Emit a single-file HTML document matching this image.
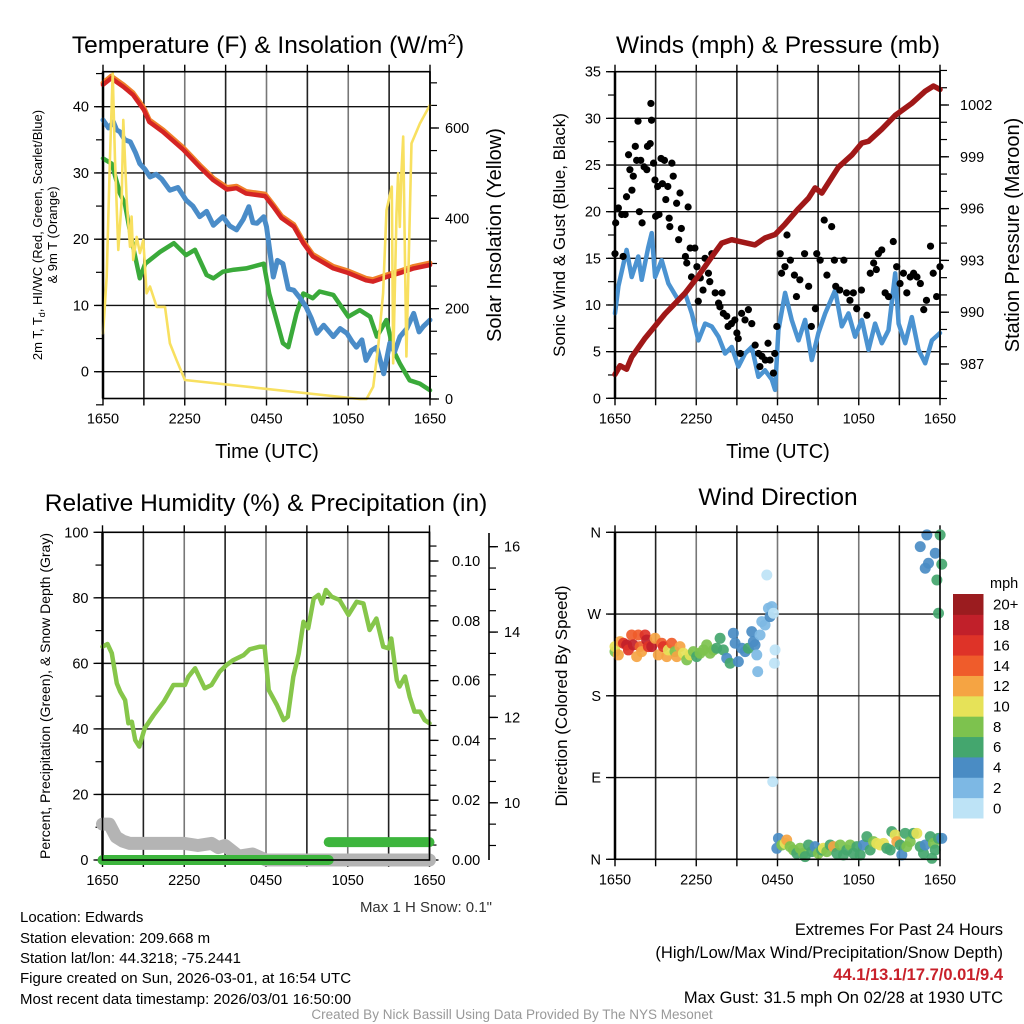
<!DOCTYPE html>
<html><head><meta charset="utf-8">
<style>
body{margin:0;background:#fff;}
svg{display:block;font-family:"Liberation Sans",Arial,sans-serif;}
</style></head>
<body>
<svg id="fig" width="1024" height="1024" viewBox="0 0 1024 1024" xmlns="http://www.w3.org/2000/svg">
<rect width="1024" height="1024" fill="#fff"/>
<g id="layer"></g>
<!-- titles -->
<text x="268" y="53" font-size="24.5" text-anchor="middle">Temperature (F) &amp; Insolation (W/m<tspan dy="-9" font-size="15">2</tspan><tspan dy="9">)</tspan></text>
<text x="778" y="53" font-size="24.5" text-anchor="middle">Winds (mph) &amp; Pressure (mb)</text>
<text x="266" y="511" font-size="24.5" text-anchor="middle">Relative Humidity (%) &amp; Precipitation (in)</text>
<text x="778" y="505" font-size="24.5" text-anchor="middle">Wind Direction</text>
<!-- axis titles -->
<text x="267" y="458" font-size="20" text-anchor="middle">Time (UTC)</text>
<text x="778" y="458" font-size="20" text-anchor="middle">Time (UTC)</text>
<text transform="translate(42,235) rotate(-90)" font-size="13" text-anchor="middle">2m T, T<tspan dy="3" font-size="9">d</tspan><tspan dy="-3">, HI/WC (Red, Green, Scarlet/Blue)</tspan></text>
<text transform="translate(57,235) rotate(-90)" font-size="13" text-anchor="middle">&amp; 9m T (Orange)</text>
<text transform="translate(501,235) rotate(-90)" font-size="20" text-anchor="middle">Solar Insolation (Yellow)</text>
<text transform="translate(565,235) rotate(-90)" font-size="17" text-anchor="middle">Sonic Wind &amp; Gust (Blue, Black)</text>
<text transform="translate(1019,235) rotate(-90)" font-size="20" text-anchor="middle">Station Pressure (Maroon)</text>
<text transform="translate(50,696) rotate(-90)" font-size="14" text-anchor="middle">Percent, Precipitation (Green), &amp; Snow Depth (Gray)</text>
<text transform="translate(567,696) rotate(-90)" font-size="17" text-anchor="middle">Direction (Colored By Speed)</text>
<!-- footer text -->
<text x="492" y="912" font-size="15" fill="#333" text-anchor="end">Max 1 H Snow: 0.1"</text>
<g font-size="15">
<text x="20" y="922">Location: Edwards</text>
<text x="20" y="943">Station elevation: 209.668 m</text>
<text x="20" y="963">Station lat/lon: 44.3218; -75.2441</text>
<text x="20" y="983">Figure created on Sun, 2026-03-01, at 16:54 UTC</text>
<text x="20" y="1004">Most recent data timestamp: 2026/03/01 16:50:00</text>
</g>
<g font-size="16.5" text-anchor="end">
<text x="1003" y="935">Extremes For Past 24 Hours</text>
<text x="1003" y="958">(High/Low/Max Wind/Precipitation/Snow Depth)</text>
<text x="1003" y="980" fill="#c8202a" font-weight="bold">44.1/13.1/17.7/0.01/9.4</text>
<text x="1003" y="1003">Max Gust: 31.5 mph On 02/28 at 1930 UTC</text>
</g>
<text x="512" y="1019" font-size="13.5" fill="#999" text-anchor="middle">Created By Nick Bassill Using Data Provided By The NYS Mesonet</text>
</svg>
<script>
// ---------- DATA ----------
const xTickLabels = ["1650","2250","0450","1050","1650"];
const redHours = [0,0.6,1.5,2.2,3,3.4,4.4,5.9,7.1,8.1,9.1,9.8,10.5,11.9,12.5,13.1,14,14.7,15.4,16.9,18,19.3,19.8,20.8,21.8,22.8,24];
const redTemp  = [43.3,44.3,43.0,41.8,39.5,37.7,36.2,33.5,30.9,28.9,27.5,27.7,26.9,26.5,24.9,23.2,21.9,19.4,17.4,15.6,14.9,13.8,13.6,14.3,14.9,15.6,16.1];
const blueHours = [0,0.4,0.76,1.0,1.25,1.6,2.0,2.4,2.7,3.1,3.45,3.9,4.3,4.9,5.5,6.1,6.6,7.1,7.6,8.1,8.8,9.3,9.8,10.3,10.7,11.0,11.3,11.8,12.0,12.5,12.8,13.2,13.6,14.0,14.5,14.9,15.3,15.7,16.2,16.9,17.4,17.9,18.3,18.6,19.0,19.3,19.7,20.1,20.6,21.05,21.4,21.8,22.3,22.8,23.2,23.5,24];
const blueTemp  = [38.0,36.8,37.7,36.5,36.2,35.0,34.7,33.0,31.4,30.5,29.4,29.8,29.1,27.4,27.8,25.9,25.0,23.4,24.2,22.1,23.4,22.0,21.4,23.0,24.9,22.5,22.4,23.4,21.9,14.3,16.8,16.3,12.5,12.3,11.0,9.8,8.0,5.8,7.0,5.3,6.5,5.8,4.5,3.7,4.8,1.7,3.2,3.7,-0.3,4.3,3.0,5.3,6.5,8.8,6.0,6.8,7.8];
const greenHours = [0,0.64,1.25,1.6,2.1,2.7,3.1,4.2,5.2,6.1,6.75,7.6,8.1,8.8,9.6,10.5,11.8,12.2,13.2,13.6,14.2,14.7,15.4,15.9,16.9,18.0,18.85,19.6,20.1,20.8,21.3,21.8,22.5,23.25,24];
const greenTemp  = [32.2,31.4,26.9,25.4,19.9,14.1,16.3,18.1,19.4,17.6,18.4,14.6,14.1,15.1,15.4,15.6,16.3,11.8,4.3,3.7,8.8,11.8,11.1,12.1,11.6,8.3,9.3,8.3,5.3,7.8,3.3,1.2,-1.3,-1.8,-2.8];
const solarHours = [0,0.27,0.51,0.71,0.88,1.12,1.37,1.49,1.74,1.98,2.1,2.22,2.47,2.71,2.96,3.2,3.45,3.94,4.55,4.91,5.4,6.01,18.85,19.34,19.83,20.2,20.56,20.81,21.2,21.3,21.54,21.66,21.78,21.9,22.03,22.27,22.64,23.26,24];
const solarW     = [145,271,529,721,529,330,440,618,440,337,404,308,359,323,352,234,249,204,204,123,86,42,0,0,27,116,234,418,470,79,411,500,381,500,581,94,566,610,651];
const windHours = [0,0.25,0.86,1.23,1.72,1.97,2.46,2.71,2.96,3.45,3.94,4.68,5.17,5.67,6.16,6.65,7.14,7.64,8.13,8.62,9.11,9.61,10.1,10.59,11.08,11.58,11.82,12.07,12.56,13.05,13.55,14.04,14.53,15.02,15.52,16.26,16.75,17.24,17.73,18.23,18.72,19.21,19.7,20.2,20.69,20.94,21.43,21.92,22.41,22.91,23.4,24];
const windMph   = [9.1,12.0,15.9,13.0,15.2,12.7,16.2,17.7,13.0,14.8,12.3,10.5,11.3,9.1,6.2,8.0,7.7,6.6,4.8,5.5,3.4,4.8,5.5,2.3,3.0,2.0,0.9,7.3,11.3,8.4,6.2,8.4,4.1,7.0,9.1,11.6,7.7,9.1,6.6,8.4,5.2,8.0,5.9,7.3,13.4,8.0,5.9,8.7,5.2,3.75,6.2,7.0];
const gustHours = [0.0,0.05,0.25,0.5,0.6,0.75,0.85,1.0,1.1,1.25,1.35,1.5,1.6,1.7,1.8,1.9,2.0,2.15,2.35,2.4,2.6,2.65,2.7,2.85,2.95,3.0,3.15,3.25,3.4,3.5,3.65,3.75,3.9,4.0,4.05,4.2,4.3,4.55,4.7,4.8,4.9,5.2,5.3,5.4,5.55,5.65,5.9,6.05,6.15,6.3,6.5,6.65,6.9,7.0,7.15,7.4,7.65,7.75,7.9,8.0,8.25,8.35,8.6,8.85,9.0,9.1,9.25,9.35,9.6,9.85,10.1,10.35,10.6,10.7,10.85,11.1,11.3,11.45,11.7,11.8,11.95,12.2,12.3,12.55,12.7,12.95,13.25,13.4,13.65,14.0,14.3,14.5,14.8,14.9,15.15,15.45,15.65,16.0,16.2,16.3,16.6,16.9,17.1,17.35,17.6,17.85,18.2,18.6,18.85,19.1,19.3,19.45,19.7,19.95,20.2,20.55,20.8,21.05,21.3,21.55,21.8,22.05,22.3,22.55,22.8,23.0,23.3,23.5,23.75,24.0];
const gustMph   = [15.5,18.8,20.4,19.7,15.2,19.7,21.6,26.1,24.5,22.3,23.8,27.0,25.5,29.7,20.0,25.5,18.8,24.8,24.5,27.0,27.3,31.6,29.8,25.2,23.4,19.5,22.7,19.7,25.7,23.0,25.5,21.3,22.7,19.3,18.4,25.2,23.8,20.9,17.0,22.0,18.2,15.2,14.5,20.5,16.1,13.0,16.1,14.1,10.4,12.9,11.6,15.0,13.4,12.5,15.5,11.3,10.2,9.8,11.3,9.1,8.8,7.7,8.0,8.4,7.0,6.4,4.8,9.1,8.4,9.5,8.0,5.7,4.8,3.4,4.5,4.1,5.9,4.1,2.7,4.8,7.7,15.5,13.4,14.1,17.5,14.8,13.2,10.9,12.7,15.5,12.0,7.7,9.6,15.5,14.8,19.1,13.2,18.4,14.8,12.0,11.6,14.8,11.3,10.5,11.3,9.6,11.6,8.9,13.4,14.5,13.8,15.5,15.9,11.3,10.9,16.8,14.1,12.3,13.4,11.3,13.0,13.4,13.0,12.3,9.5,10.5,16.3,13.4,10.9,14.1];
const presHours = [0,0.37,0.86,1.23,2.22,2.96,3.69,5.17,6.16,7.14,7.88,8.62,10.34,11.08,11.82,12.56,13.55,14.29,14.78,15.27,16.5,17.49,18.23,18.72,19.7,20.69,21.92,22.91,23.52,24];
const presMb   = [986.4,986.9,986.7,987.4,988.5,989.2,989.9,991.1,992.1,993.2,994.0,994.2,993.9,994.3,994.5,995.1,996.0,996.6,997.2,996.9,998.4,999.1,999.8,999.9,1000.6,1001.4,1002.1,1002.8,1003.1,1002.9];
const rhHours = [0,0.37,0.68,1.05,1.3,1.66,1.9,2.15,2.4,2.7,3.1,3.75,4.5,5.2,6.05,6.3,6.8,7.5,8.0,8.6,9.1,9.6,10.35,10.8,11.55,11.9,12.2,12.8,13.3,13.6,14.0,14.4,14.75,15.1,15.5,15.85,16.1,16.4,16.8,17.4,18.05,18.65,19.15,19.6,20.1,20.6,21.0,21.2,21.6,21.8,22.2,22.55,22.9,23.3,23.65,24];
const rhPct   = [65.1,65.9,63.1,53.9,51.4,48.8,41.7,42.2,36.6,34.6,40.2,44.2,48.3,53.4,53.4,55.9,58.5,52.4,53.4,57.5,59.5,61.0,62.5,64.3,65.1,65.1,51.9,47.3,42.7,43.7,55.9,62.9,72.7,70.7,79.8,80.9,78.3,82.4,80.4,79.3,74.8,78.8,78.3,70.2,73.7,65.1,64.6,67.6,54.9,52.9,56.0,49.8,45.3,45.3,42.7,41.7];
const precipHours = [0,16.6,16.6,24];
const precipIn    = [0,0,0.006,0.006];
const snowHours = [0,0.5,1,1.5,2,4,6,7,8,8.5,9,10,11,12,24];
const snowIn    = [9.5,9.5,9.2,9.1,9.05,9.05,9.05,9.0,9.05,8.95,9.0,8.75,8.8,8.66,8.66];
const dirHours = [0,0,0.25,0.37,0.62,0.86,0.99,1.23,1.35,1.6,1.72,1.85,1.97,2.22,2.34,2.46,2.71,2.96,3.2,3.45,3.57,3.82,3.94,4.19,4.43,4.56,4.8,5.05,5.3,5.54,5.79,6.03,6.28,6.53,6.77,7.02,7.27,7.51,7.76,8.0,8.25,8.5,8.74,8.87,9.11,9.36,9.61,9.85,10.1,10.22,10.34,10.47,10.54,10.71,10.84,11.08,11.21,11.33,11.45,11.58,11.7,11.82,11.77,11.65,
 11.95,12.07,12.32,12.56,12.68,12.93,13.18,13.42,13.67,13.92,14.04,14.29,14.53,14.78,15.02,15.27,15.39,15.64,15.89,16.13,16.38,16.63,16.87,17.12,17.36,17.61,17.86,18.1,18.35,18.6,18.84,19.09,19.33,19.58,19.83,20.07,20.32,20.44,20.69,20.81,21.06,21.18,21.43,21.55,21.8,22.04,22.29,22.54,22.78,22.91,23.28,23.52,23.65,23.89,24.13,23.4,
 23.03,24.01,22.54,23.65,23.15,24.13,22.91,23.77,23.89];
const dirDeg = [228.6,234.1,225,239.6,237.8,236,230.5,247,236,223.1,247,234.1,228.6,247,241.5,234.1,234.1,243.3,225,237.8,234.1,223.1,230.5,237.8,228.6,223.1,234.1,226.8,219.5,225,228.6,223.1,226.8,230.5,236,226.8,230.5,232.3,243.3,230.5,221.3,215.8,248.8,237.8,217.6,232.3,228.6,232.3,250.7,239.6,236,225,206.6,247,261.7,258,313,276.4,267.2,278.2,270.9,230.5,215.8,85.5,
 12.1,23.1,15.8,17.6,21.3,14,10.3,6.6,12.1,6.6,2.9,15.8,8.4,14,6.6,10.3,12.1,8.4,15.8,14,6.6,15.8,4.8,10.3,15.8,6.6,14,4.8,15.8,24.9,10.3,19.5,17.6,15.8,17.6,12.1,10.3,30.5,26.8,19.5,15.8,4.8,28.6,14,19.5,28.6,28.6,14,6.6,15.8,24.9,17.6,10.3,23.1,23.1,1.1,
 357.1,357.1,344.2,336.9,325.9,324.8,320.4,307.5,270.9];
const dirSpeed = [8,10,12,12,16,18,16,14,18,12,14,14,12,16,18,16,18,12,12,14,16,12,10,14,8,12,12,10,8,10,8,6,8,8,8,8,8,6,6,6,4,6,4,4,4,4,4,6,4,4,4,2,2,2,2,2,0,2,4,2,0,0,0,0,
 4,4,8,10,12,8,8,6,8,8,6,6,6,4,8,6,10,8,6,12,6,8,6,6,8,6,6,6,4,6,6,8,10,10,10,6,6,6,10,12,6,4,6,8,8,6,10,6,6,4,6,8,6,6,4,6,
 4,6,4,4,4,6,4,6,6];
const cbLabels = ["0","2","4","6","8","10","12","14","16","18","20+"];
const cbColors = ["#bde3f6","#7db8e4","#4a8cc4","#44a66e","#7dc24e","#e6e258","#f5a443","#ef5c2b","#de3328","#c1202a","#9b1c1f"];
const tempTicks=[0,10,20,30,40], solarTicks=[0,200,400,600], windTicks=[0,5,10,15,20,25,30,35], presTicks=[987,990,993,996,999,1002];
const rhTicks=[0,20,40,60,80,100], precipTicks=[0,0.02,0.04,0.06,0.08,0.10], snowTicks=[10,12,14,16];
const dirTicks=[0,90,180,270,360], dirLabels=["N","E","S","W","N"];

// ---------- RENDER ----------
const NS="http://www.w3.org/2000/svg";
const layer=document.getElementById('layer');
function el(tag,attrs,parent){const e=document.createElementNS(NS,tag);for(const k in attrs)e.setAttribute(k,attrs[k]);(parent||layer).appendChild(e);return e;}
function lin(d0,d1,r0,r1){return v=>r0+(v-d0)*(r1-r0)/(d1-d0);}
const P1={x0:103,x1:430,y0:71.7,y1:398.5}, P2={x0:615,x1:940,y0:71.7,y1:398.3}, P3={x0:102.5,x1:429.5,y0:532.3,y1:860}, P4={x0:615,x1:940,y0:532.3,y1:859.3};
function grid(P,hy,name){
  const g=el('g',{});
  
  
  const xs=lin(0,24,P.x0,P.x1);
  for(let h=3;h<24;h+=3){el('line',{x1:xs(h),x2:xs(h),y1:P.y0,y2:P.y1,stroke:h%6==0?'#777':'#222','stroke-width':1.6},g);}
  hy.forEach(y=>{el('line',{x1:P.x0,x2:P.x1,y1:y,y2:y,stroke:'#111','stroke-width':1.4},g);});
  for(let h=0;h<=24;h+=3){el('line',{x1:xs(h),x2:xs(h),y1:P.y1,y2:P.y1+7,stroke:'#000','stroke-width':1.4},g);el('line',{x1:xs(h),x2:xs(h),y1:P.y0,y2:P.y0-7,stroke:'#000','stroke-width':1.4},g);}
  xTickLabels.forEach((t,i)=>{const tx=el('text',{x:xs(i*6),y:P.y1+25,'font-size':14.5,'text-anchor':'middle'},g);tx.textContent=t;});
  return xs;
}
function frame(P,name){const r=el('rect',{x:P.x0,y:P.y0,width:P.x1-P.x0,height:P.y1-P.y0,fill:'none',stroke:'#000','stroke-width':1.6});
  
  }
function leftAxis(P,ys,majors,minorStep,min,max,labels,name){
  const g=el('g',{});
  
  
  el('line',{x1:P.x0,x2:P.x0,y1:P.y0,y2:P.y1,stroke:'#000','stroke-width':2.5},g);
  for(let v=min;v<=max+1e-9;v+=minorStep){el('line',{x1:P.x0-7,x2:P.x0,y1:ys(v),y2:ys(v),stroke:'#000','stroke-width':1.2},g);}
  majors.forEach((v,i)=>{el('line',{x1:P.x0-9,x2:P.x0,y1:ys(v),y2:ys(v),stroke:'#000','stroke-width':1.3},g);
    const t=el('text',{x:P.x0-14,y:ys(v)+5,'font-size':14.5,'text-anchor':'end'},g);t.textContent=labels?labels[i]:v;});
}
function rightAxis(x,y0,y1,ys,majors,minorStep,min,max,labelFmt,name,lx){
  const g=el('g',{});
  
  
  el('line',{x1:x,x2:x,y1:y0,y2:y1,stroke:'#000','stroke-width':1.6},g);
  for(let v=min;v<=max+1e-9;v+=minorStep){el('line',{x1:x,x2:x+7,y1:ys(v),y2:ys(v),stroke:'#000','stroke-width':1.2},g);}
  majors.forEach(v=>{el('line',{x1:x,x2:x+9,y1:ys(v),y2:ys(v),stroke:'#000','stroke-width':1.3},g);
    const t=el('text',{x:lx,y:ys(v)+5,'font-size':14.5},g);t.textContent=labelFmt(v);});
}
function line(xs,ys,H,V,color,w,name){
  const pts=H.map((h,i)=>xs(h).toFixed(1)+','+ys(V[i]).toFixed(1)).join(' ');
  const p=el('polyline',{points:pts,fill:'none',stroke:color,'stroke-width':w,'stroke-linejoin':'round','stroke-linecap':'round'});
  
  
  return p;
}
// Panel 1
const t1=lin(0,40,371.7,106.7), s1=lin(0,600,399,128);
const xs1=grid(P1,tempTicks.map(t1),'temp');
leftAxis(P1,t1,tempTicks,5,-5,45,null,'temp-y-axis');
rightAxis(P1.x1,P1.y0,P1.y1,s1,solarTicks,50,0,700,v=>v,'solar-y-axis',445);
line(xs1,t1,greenHours,greenTemp,'#3aaa3a',4.5,'dewpoint-line');
line(xs1,t1,blueHours,blueTemp,'#4a8cc8',5,'windchill-line');
line(xs1,t1,redHours,redTemp.map(v=>v+0.3),'#f0802a',5,'temp-9m-line');
line(xs1,t1,redHours,redTemp,'#d42424',4.5,'temp-2m-line');
line(xs1,s1,solarHours,solarW,'#f8e060',2.6,'solar-line');
frame(P1,'temp');
// Panel 2
const w2=lin(0,35,398.3,71.7), p2=lin(987,1002,364,105);
const xs2=grid(P2,[5,10,15,20,25,30].map(w2),'wind');
leftAxis(P2,w2,windTicks,2.5,0,35,null,'wind-y-axis');
rightAxis(P2.x1,P2.y0,P2.y1,p2,presTicks,1,985,1004,v=>v,'pressure-y-axis',960);
line(xs2,w2,windHours,windMph,'#4b93d1',4.5,'wind-line');
gustHours.forEach((h,i)=>{const c=el('circle',{cx:xs2(h),cy:w2(gustMph[i]),r:3.6,fill:'#000'});
  
  });
line(xs2,p2,presHours,presMb,'#a01818',5.5,'pressure-line');
frame(P2,'wind');
// Panel 3
const r3=lin(0,100,860,532.3), pr3=lin(0,0.1,860,561), sn3=lin(8.66,16,860,546.7);
const xs3=grid(P3,[20,40,60,80].map(r3),'humidity');
leftAxis(P3,r3,rhTicks,10,0,100,null,'humidity-y-axis');
rightAxis(P3.x1,P3.y0,P3.y1,pr3,precipTicks,0.005,0,0.105,v=>v.toFixed(2),'precip-y-axis',452);
rightAxis(489,533,860,sn3,snowTicks,0.5,9,16,v=>v,'snow-y-axis',504);
line(xs3,sn3,snowHours,snowIn,'#b4b4b4',13,'snow-depth-line');
line(xs3,pr3,precipHours.slice(0,2),precipIn.slice(0,2),'#3db53d',10,'precip-line-zero');
line(xs3,pr3,precipHours.slice(2),precipIn.slice(2),'#3db53d',10,'precip-line');
line(xs3,r3,rhHours,rhPct,'#86c64a',4.5,'humidity-line');
frame(P3,'humidity');
// Panel 4
const d4=lin(0,360,859.3,532.3);
const xs4=grid(P4,[90,180,270].map(d4),'direction');
leftAxis(P4,d4,dirTicks,90,0,360,dirLabels,'direction-y-axis');
dirHours.forEach((h,i)=>{const c=el('circle',{cx:xs4(h),cy:d4(dirDeg[i]),r:5.5,fill:cbColors[Math.min(10,Math.round(dirSpeed[i]/2))],'fill-opacity':0.92});
  
  });
frame(P4,'direction');
// Colorbar
const cb=el('g',{});


const cby=lin(0,11,818,594);
const mph=el('text',{x:990,y:588,'font-size':14.5},cb);mph.textContent='mph';
cbColors.forEach((c,i)=>{el('rect',{x:953,y:cby(i+1),width:30.5,height:cby(i)-cby(i+1)+0.5,fill:c},cb);
  const t=el('text',{x:993,y:(cby(i)+cby(i+1))/2+5.5,'font-size':15},cb);t.textContent=cbLabels[i];});
</script>
</body></html>
